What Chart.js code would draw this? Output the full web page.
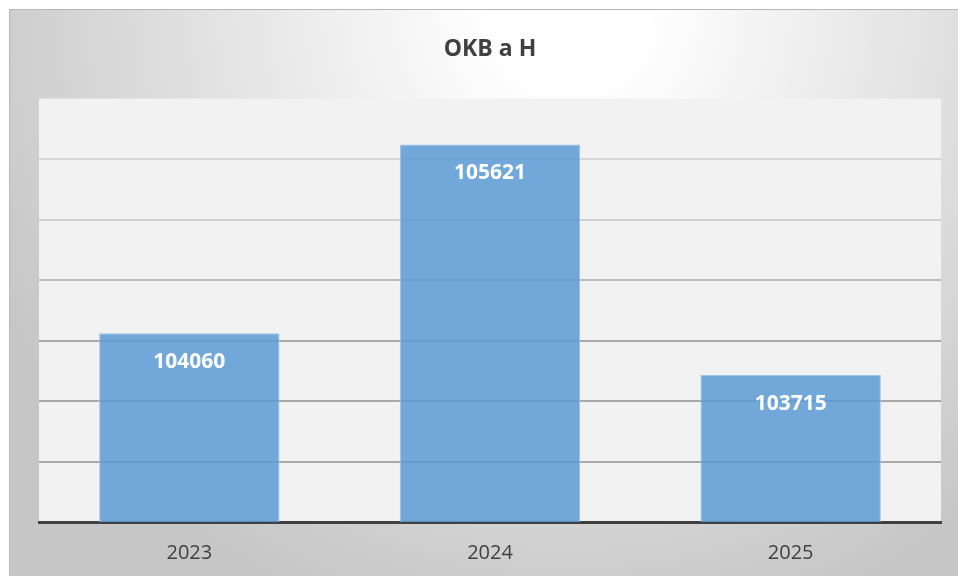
<!DOCTYPE html>
<html>
<head>
<meta charset="utf-8">
<script src="https://cdn.jsdelivr.net/npm/chart.js@4.4.1/dist/chart.umd.min.js"></script>
<style>
  html, body { margin: 0; padding: 0; background: #ffffff; width: 958px; height: 576px; overflow: hidden; }
  #c { position: absolute; left: 9px; top: 9px; }
</style>
</head>
<body>
<canvas id="c" width="949" height="585"></canvas>
<script>
const chartTitle = 'OKB a H';
const categories = ['2023', '2024', '2025'];
const values = [104060, 105621, 103715];
const yMin = 102500;
const yMax = 106000;
const yStep = 500;

const bgPlugin = {
  id: 'bg',
  beforeDraw(chart) {
    const ctx = chart.ctx;
    const w = chart.width, h = chart.height;
    ctx.save();
    const g = ctx.createRadialGradient(560, 0, 0, 560, 0, 640);
    g.addColorStop(0, '#ffffff');
    g.addColorStop(0.12, '#ffffff');
    g.addColorStop(1, '#c6c6c6');
    ctx.fillStyle = g;
    ctx.fillRect(0, 0, w, h);
    ctx.strokeStyle = '#b8b8b8';
    ctx.lineWidth = 1;
    ctx.beginPath();
    ctx.moveTo(0.5, h);
    ctx.lineTo(0.5, 0.5);
    ctx.lineTo(w, 0.5);
    ctx.stroke();
    const a = chart.chartArea;
    ctx.fillStyle = '#f2f2f2';
    ctx.fillRect(a.left, a.top, a.right - a.left, a.bottom - a.top);
    ctx.restore();
  }
};

const labelPlugin = {
  id: 'barLabels',
  afterDatasetsDraw(chart) {
    const ctx = chart.ctx;
    const meta = chart.getDatasetMeta(0);
    ctx.save();
    ctx.font = 'bold 21px "Open Sans"';
    ctx.fillStyle = '#ffffff';
    ctx.textAlign = 'center';
    ctx.textBaseline = 'middle';
    meta.data.forEach((bar, i) => {
      ctx.fillText(String(values[i]), bar.x, bar.y + 29);
    });
    ctx.restore();
  }
};

const gridColors = {
  105500: '#d6d6d6',
  105000: '#d0d0d0',
  104500: '#bcbcbc',
  104000: '#a8a8a8',
  103500: '#a8a8a8',
  103000: '#a8a8a8'
};

new Chart(document.getElementById('c'), {
  type: 'bar',
  data: {
    labels: categories,
    datasets: [{
      data: values,
      backgroundColor: 'rgba(91,155,213,0.85)',
      borderColor: '#9dc3e6',
      borderWidth: 1,
      barPercentage: 0.6,
      categoryPercentage: 1.0
    }]
  },
  options: {
    responsive: false,
    animation: false,
    devicePixelRatio: 1,
    layout: { padding: { left: 30, right: 17, top: 0, bottom: 10 } },
    plugins: {
      legend: { display: false },
      tooltip: { enabled: false },
      title: {
        display: true,
        text: chartTitle,
        color: '#404040',
        font: { family: '"Open Sans"', size: 23, weight: 'bold', lineHeight: 1.2 },
        padding: { top: 27, bottom: 35 }
      }
    },
    scales: {
      x: {
        grid: { display: false, drawTicks: false },
        border: { display: true, color: '#404040', width: 3 },
        ticks: {
          color: '#404040',
          font: { family: '"Open Sans"', size: 20 },
          padding: 19
        }
      },
      y: {
        min: yMin,
        max: yMax,
        border: { display: false },
        ticks: { display: false, stepSize: yStep },
        grid: {
          drawTicks: false,
          lineWidth: 2,
          color: (c) => gridColors[c.tick && c.tick.value] || 'rgba(0,0,0,0)'
        }
      }
    }
  },
  plugins: [bgPlugin, labelPlugin]
});
</script>
</body>
</html>
